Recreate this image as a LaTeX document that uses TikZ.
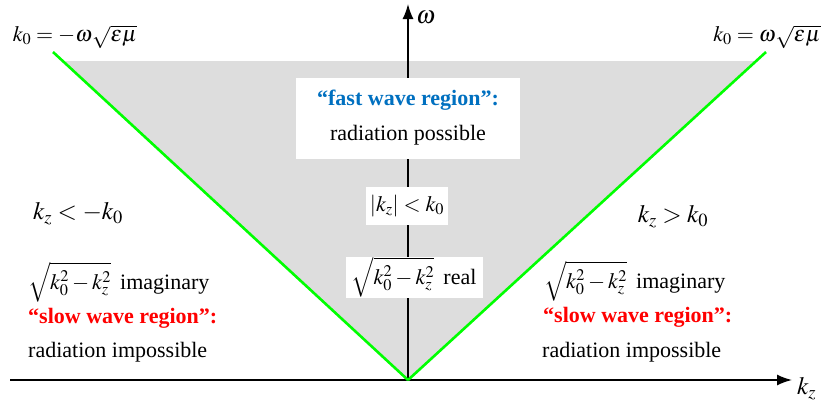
\documentclass[tikz,border=0pt]{standalone}
\usepackage{amsmath}
\usepackage{mathptmx}
\usepackage{fontspec}
\setmainfont{Liberation Serif}
\newfontfamily\labelfont{Liberation Serif}
\usetikzlibrary{arrows.meta,positioning,calc}
\definecolor{fastblue}{RGB}{0,112,192}
\definecolor{regiongray}{RGB}{221,221,221}
\tikzset{
	lbl/.style={font=\labelfont\fontsize{22}{26}\selectfont, inner sep=0pt},
	condlbl/.style={lbl, font=\labelfont\fontsize{25}{28}\selectfont},
	whitebox/.style={lbl, fill=white},
	slowlbl/.style={lbl, anchor=west, text=red, font=\labelfont\fontsize{22}{26}\selectfont\bfseries},
	axis/.style={line width=1.6pt, -{Latex[length=15pt,width=11pt]}},
	lightline/.style={draw=green, line width=2.6pt},
}
\begin{document}
\begin{tikzpicture}[x=1pt,y=-1pt]
	\useasboundingbox (0,0) rectangle (823,405);
	% light lines and fast wave region
	\coordinate (O) at (408,380);
	\coordinate (L) at (53,52);
	\coordinate (R) at (766,52);
	\coordinate (GL) at ($(O)!0.9725!(L)$);
	\coordinate (GR) at ($(O)!0.9725!(R)$);
	
	\fill[regiongray] (O)--(GL)--(GR)--cycle;
	
	% axes
	\coordinate (xs) at (10,380);
	\coordinate (xe) at (792,380);
	\coordinate (ye) at (408,4);
	\draw[axis] (xs)--(xe);
	\draw[axis] (O)--(ye);
	\node[condlbl, anchor=west] (kz) at (797,389) {$k_z$};
	\node[condlbl, anchor=west] (om) at (416,18) {$\omega$};
	
	\draw[lightline] (O)--(L);
	\draw[lightline] (O)--(R);
	\node[lbl] (kneg) at (75,37) {$k_0=-\omega\sqrt{\varepsilon\mu}$};
	\node[lbl] (kpos) at (767,37) {$k_0=\omega\sqrt{\varepsilon\mu}$};
	
	% fast wave region
	\node[whitebox, minimum width=224pt, minimum height=81pt, align=center,
		font=\labelfont\fontsize{22}{35}\selectfont] (fast) at (408,118)
		{\textcolor{fastblue}{\textbf{“fast wave region”:}}\\radiation possible};
	\node[whitebox, minimum width=82pt, minimum height=38pt] (abs) at (407,206)
		{$\left|k_z\right|<k_0$};
	\node[whitebox, minimum width=137pt, minimum height=41pt] (real) at (414,277)
		{$\sqrt{k_0^2-k_z^2}$\, real};
	
	% slow wave regions
	\node[condlbl] (lcond) at (78,214) {$k_z<-k_0$};
	\node[lbl, anchor=west] (limag) at (28,282) {$\sqrt{k_0^2-k_z^2}$\, imaginary};
	\node[slowlbl] (lslow) at (28,318) {“slow wave region”:};
	\node[lbl, anchor=west] (lrad) at (28,352) {radiation impossible};
	
	\node[condlbl] (rcond) at (673,217) {$k_z>k_0$};
	\node[lbl, anchor=west] (rimag) at (544,281) {$\sqrt{k_0^2-k_z^2}$\, imaginary};
	\node[slowlbl] (rslow) at (543,317) {“slow wave region”:};
	\node[lbl, anchor=west] (rrad) at (542,352) {radiation impossible};
\end{tikzpicture}
\end{document}
